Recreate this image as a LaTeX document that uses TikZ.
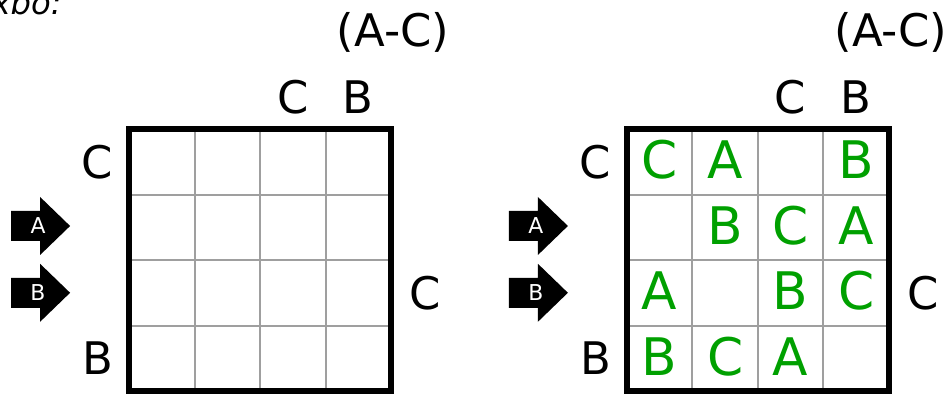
\documentclass[tikz,border=0pt]{standalone}
\usepackage{fontspec}
\setmainfont{DejaVu Sans}
\definecolor{solgreen}{RGB}{0,160,0}
\tikzset{
  clue/.style={anchor=base, inner sep=0pt, font=\fontsize{19.5}{22}\selectfont},
  sol/.style={anchor=base, inner sep=0pt, text=solgreen, font=\fontsize{22.5}{25}\selectfont},
  tag/.style={inner sep=0pt, text=white, font=\fontsize{9.5}{11}\selectfont},
  hint/.style={anchor=base east, inner sep=0pt, font=\itshape\fontsize{14}{16}\selectfont},
  cell/.style={draw=gray!75, line width=0.9pt},
  frame/.style={line width=2.5pt},
}
\begin{document}
\begin{tikzpicture}[x=1cm, y=1cm]
\useasboundingbox (0,0) rectangle (14.458,6);
\node[hint] (hint) at (0.95,5.786) {xbo:};
% the two boards, same clues
\foreach \dx/\p in {1.97/L, 9.57/R}{
  \begin{scope}[shift={(\dx,0.03)}]
    \draw[cell] (0,0) grid (4,4);
    \draw[frame] (0,0) rectangle (4,4);
    \node[clue] (\p-range) at (4.03,5.26) {(A-C)};
    \node[clue] (\p-top3) at (2.5,4.24) {C};
    \node[clue] (\p-top4) at (3.5,4.24) {B};
    \node[clue] (\p-left1) at (-0.48,3.25) {C};
    \node[clue] (\p-left4) at (-0.48,0.25) {B};
    \node[clue] (\p-right3) at (4.52,1.25) {C};
    % row arrows
    \fill (-1.80,2.291) -- (-1.358,2.291) -- (-1.358,2.077) -- (-0.90,2.52)
      -- (-1.358,2.963) -- (-1.358,2.749) -- (-1.80,2.749) -- cycle;
    \node[tag] (\p-arrA) at (-1.39,2.52) {A};
    \fill (-1.80,1.271) -- (-1.358,1.271) -- (-1.358,1.057) -- (-0.90,1.50)
      -- (-1.358,1.943) -- (-1.358,1.729) -- (-1.80,1.729) -- cycle;
    \node[tag] (\p-arrB) at (-1.39,1.50) {B};
  \end{scope}
}
% filled in board
\begin{scope}[shift={(9.57,0.03)}]
  \foreach \r/\c/\t in {1/1/C, 1/2/A, 1/4/B, 2/2/B, 2/3/C, 2/4/A,
                        3/1/A, 3/3/B, 3/4/C, 4/1/B, 4/2/C, 4/3/A}
    \node[sol] (s\r\c) at (\c-0.5, 4.24-\r) {\t};
\end{scope}
\end{tikzpicture}
\end{document}
